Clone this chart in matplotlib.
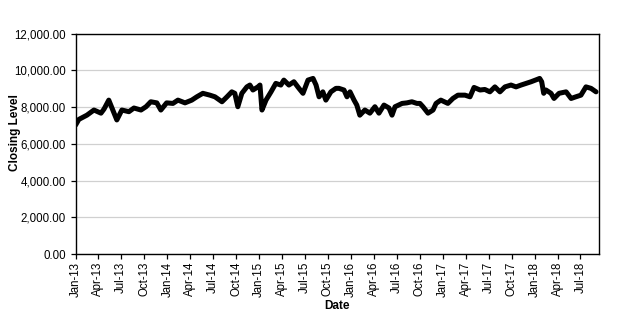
import numpy as np
import pandas as pd
import matplotlib
matplotlib.use("Agg")
from matplotlib import pyplot as plt
import matplotlib.dates as mdates
from matplotlib.ticker import FuncFormatter

plt.rcParams['font.family'] = ['Liberation Sans', 'DejaVu Sans']

# closing level (approximate)
dates = ["2013-01-01", "2013-01-14", "2013-02-15", "2013-03-15", "2013-04-12", "2013-04-24",
         "2013-05-13", "2013-05-29", "2013-06-14", "2013-07-04", "2013-08-01", "2013-08-21",
         "2013-09-18", "2013-10-08", "2013-10-27", "2013-11-20", "2013-12-06", "2013-12-29",
         "2014-01-23", "2014-02-12", "2014-03-12", "2014-04-08", "2014-04-28", "2014-05-22",
         "2014-06-19", "2014-07-09", "2014-08-06", "2014-08-26", "2014-09-14", "2014-09-26",
         "2014-10-08", "2014-10-24", "2014-11-13", "2014-11-25", "2014-12-07", "2014-12-27",
         "2015-01-04", "2015-01-12", "2015-01-28", "2015-02-17", "2015-03-08", "2015-03-28",
         "2015-04-09", "2015-04-29", "2015-05-19", "2015-06-08", "2015-06-24", "2015-07-14",
         "2015-08-03", "2015-08-15", "2015-08-27", "2015-09-11", "2015-09-23", "2015-10-13",
         "2015-11-02", "2015-11-14", "2015-12-04", "2015-12-16", "2015-12-28", "2016-01-13",
         "2016-01-24", "2016-02-05", "2016-02-25", "2016-03-16", "2016-04-05", "2016-04-21",
         "2016-05-11", "2016-05-31", "2016-06-12", "2016-06-24", "2016-07-22", "2016-08-10",
         "2016-08-30", "2016-09-19", "2016-10-01", "2016-10-13", "2016-11-02", "2016-11-22",
         "2016-12-04", "2016-12-23", "2017-01-20", "2017-02-09", "2017-03-01", "2017-03-29",
         "2017-04-18", "2017-05-04", "2017-05-28", "2017-06-16", "2017-07-06", "2017-07-26",
         "2017-08-15", "2017-09-04", "2017-09-28", "2017-10-18", "2017-11-07", "2017-11-27",
         "2017-12-17", "2018-01-05", "2018-01-20", "2018-01-28", "2018-02-05", "2018-02-14",
         "2018-03-06", "2018-03-18", "2018-04-07", "2018-05-05", "2018-05-25", "2018-06-13",
         "2018-07-03", "2018-07-23", "2018-08-12", "2018-09-01"]
closing = [7020, 7330, 7560, 7840, 7670, 7890,
           8380, 7840, 7300, 7840, 7750, 7950,
           7840, 8020, 8290, 8230, 7840, 8230,
           8200, 8380, 8230, 8380, 8560, 8750,
           8650, 8560, 8290, 8560, 8830, 8750,
           8020, 8750, 9100, 9200, 8930, 9100,
           9200, 7840, 8380, 8830, 9290, 9200,
           9470, 9200, 9380, 9020, 8750, 9470,
           9560, 9200, 8560, 8830, 8380, 8830,
           9020, 9020, 8930, 8560, 8830, 8380,
           8110, 7560, 7840, 7670, 8020, 7670,
           8110, 7950, 7560, 8020, 8200, 8230,
           8290, 8200, 8200, 8020, 7670, 7840,
           8200, 8380, 8200, 8470, 8650, 8650,
           8560, 9070, 8930, 8960, 8830, 9100,
           8830, 9100, 9200, 9100, 9200, 9290,
           9380, 9480, 9560, 9380, 8750, 8930,
           8750, 8470, 8750, 8830, 8470, 8560,
           8650, 9100, 9020, 8830]

x = pd.to_datetime(dates)

fig = plt.figure(figsize=(6.22, 3.2), dpi=100)
ax = fig.add_axes([0.1215, 0.206, 0.842, 0.689])

ax.plot(x, closing, color="black", lw=3.6, solid_joinstyle="round", solid_capstyle="round")

ax.set_ylim(0, 12000)
ax.set_yticks(np.arange(0, 12001, 2000))
ax.yaxis.set_major_formatter(FuncFormatter(lambda v, p: f"{v:,.2f}"))
ax.set_xlim(pd.Timestamp("2013-01-01"), pd.Timestamp("2018-09-14"))
ax.xaxis.set_major_locator(mdates.MonthLocator(bymonth=[1, 4, 7, 10]))
ax.xaxis.set_major_formatter(mdates.DateFormatter("%b-%y"))
plt.setp(ax.get_xticklabels(), rotation=90)

ax.grid(axis="y", color="#d0d0d0", lw=0.9)
ax.set_axisbelow(True)
for s in ax.spines.values():
    s.set_color("black")
    s.set_linewidth(1.0)
ax.tick_params(labelsize=8.3, length=3.5, width=0.9, colors="black")
ax.tick_params(axis="x", pad=2)

ax.set_ylabel("Closing Level", fontsize=8.5, fontweight="bold")
ax.yaxis.set_label_coords(-0.105, 0.55)
ax.set_xlabel("Date", fontsize=8.5, fontweight="bold", labelpad=2)

fig.savefig("out.png", dpi=100)
